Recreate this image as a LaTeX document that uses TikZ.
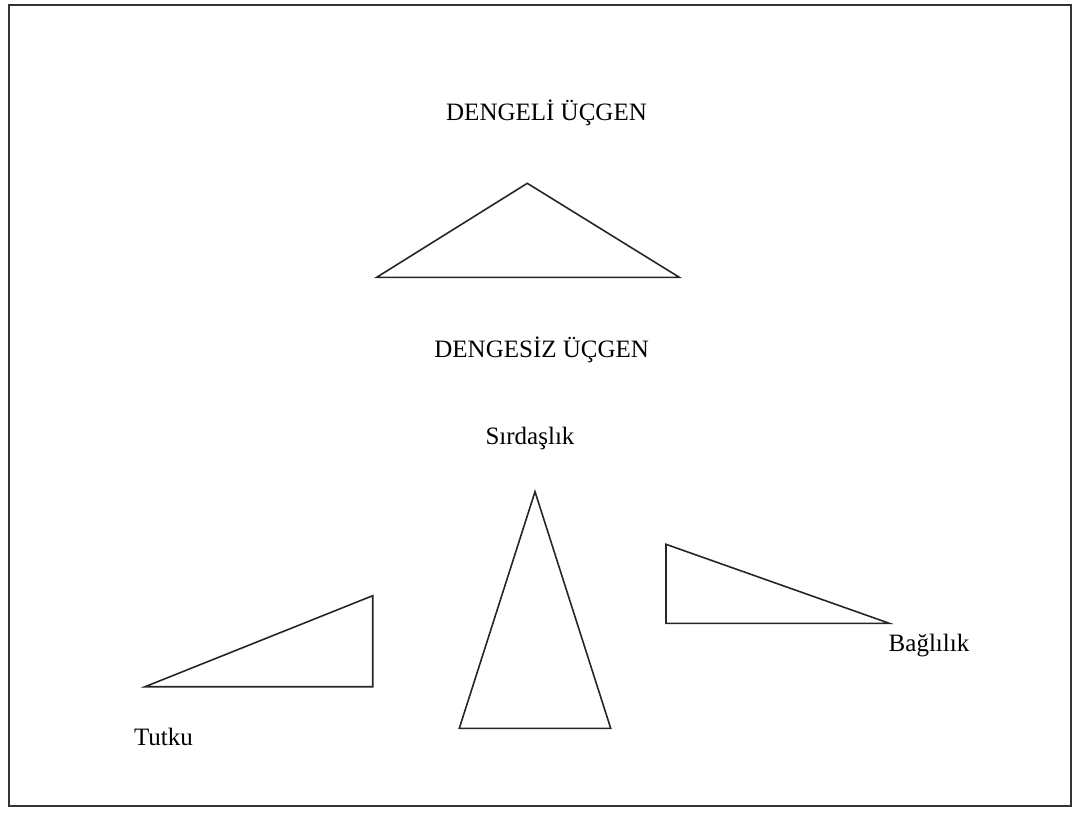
\documentclass[tikz,border=0pt]{standalone}
\usepackage{fontspec}
\setmainfont{Liberation Serif}
\usetikzlibrary{calc}

\begin{document}
\begin{tikzpicture}[x=1pt, y=-1pt,
	label/.style={font=\fontsize{25}{30}\selectfont, inner sep=0pt, anchor=base},
	tri/.style={line width=1.6pt, line join=miter, draw=black!85}]
\useasboundingbox (0,0) rectangle (1073,814);
\draw[line width=2pt, draw=black!80] (9,5) rectangle (1071,806);

%titles
\node[label] (dengeli) at (546.5,120){DENGEL\.I \"U\c{C}GEN};
\node[label] (dengesiz) at (541.7,357.5){DENGES\.IZ \"U\c{C}GEN};

%balanced triangle
\draw[tri] (376.7,277.3) -- (527.3,183.3) -- (679.3,277.3) -- cycle;

%unbalanced triangles
\draw[tri] (535,491.7) -- (459.3,728.3) -- (610.7,728.3) -- cycle;
\draw[tri] (145,686.7) -- (372.7,595.7) -- (372.7,686.7) -- cycle;
\draw[tri] (666,544.3) -- (889.3,623.3) -- (666,623.3) -- cycle;

\node[label] (sirdaslik) at (530,444){S\i rda\c{s}l\i k};
\node[label] (baglilik) at (929,651){Ba\u{g}l\i l\i k};
\node[label] (tutku) at (163.5,745){Tutku};
\end{tikzpicture}
\end{document}
